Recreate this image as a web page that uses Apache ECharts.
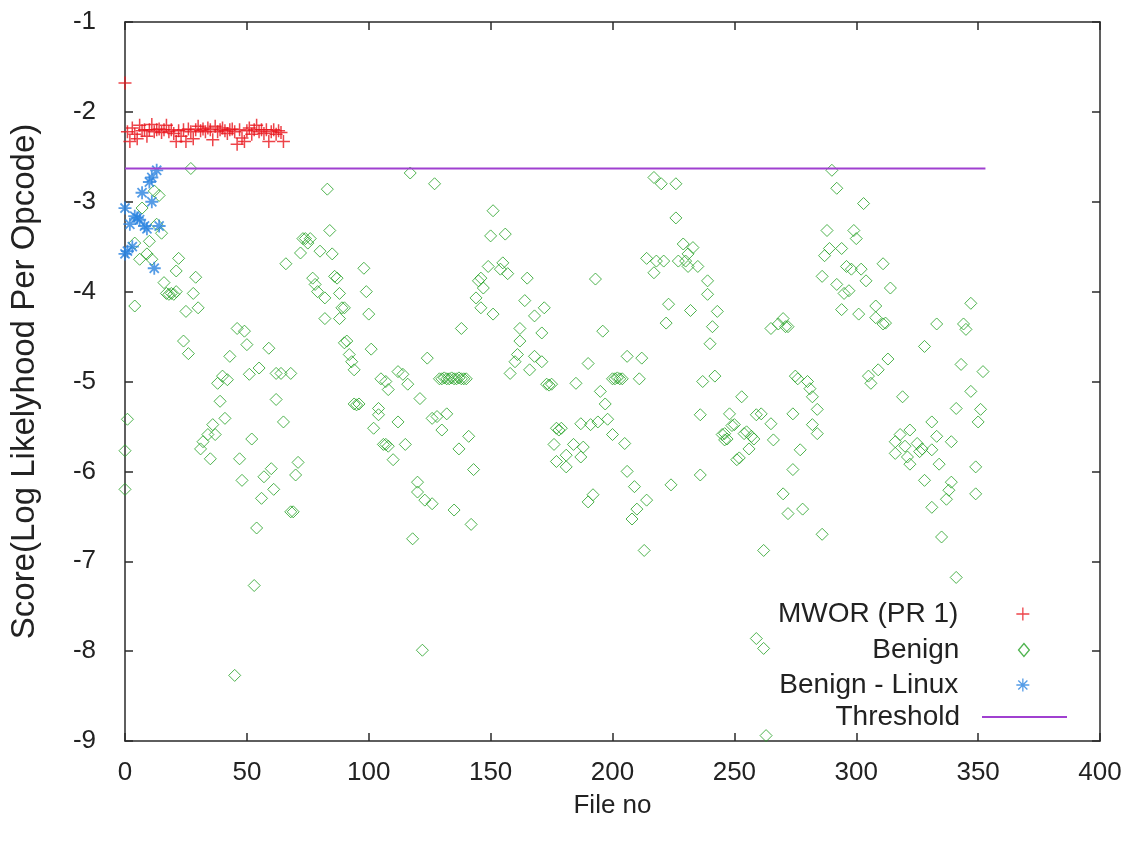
<!DOCTYPE html>
<html lang="en">
<head>
    <meta charset="UTF-8">
    <title>Score per file</title>
    <script src="https://cdn.jsdelivr.net/npm/echarts@6/dist/echarts.min.js"></script>
    <style>
        html, body {margin: 0; padding: 0; background: #ffffff;}
        #chart {width: 1131px; height: 841px;}
    </style>
</head>
<body>
<div id="chart"></div>
<script>
    // series names (legend order)
    const seriesNames = ["MWOR (PR 1)", "Benign", "Benign - Linux", "Threshold"];

    // MWOR scores, index = file no
    const mwor = [-1.68, -2.22, -2.33, -2.18, -2.25, -2.30, -2.15, -2.21, -2.20, -2.27,
        -2.20, -2.14, -2.22, -2.20, -2.19, -2.23, -2.20, -2.15, -2.22, -2.20,
        -2.24, -2.33, -2.21, -2.27, -2.20, -2.33, -2.19, -2.22, -2.30, -2.20,
        -2.16, -2.21, -2.19, -2.22, -2.18, -2.20, -2.31, -2.16, -2.22, -2.20,
        -2.18, -2.21, -2.24, -2.20, -2.19, -2.22, -2.36, -2.20, -2.29, -2.33,
        -2.21, -2.18, -2.25, -2.20, -2.15, -2.22, -2.20, -2.24, -2.20, -2.33,
        -2.22, -2.20, -2.25, -2.21, -2.23, -2.33];

    // benign - linux [file no, score]
    const linux = [[0, -3.07], [0, -3.58], [1, -3.55], [2, -3.25], [3, -3.50], [4, -3.16],
        [5, -3.18], [6, -3.20], [7, -2.90], [8, -3.27], [9, -3.30], [10, -2.78],
        [11, -2.73], [11, -3.00], [12, -3.74], [13, -2.65], [14, -3.27]];

    // benign [file no, score]
    const benign = [[0, -5.77], [0, -6.2], [1, -5.42], [4, -3.46], [4, -4.16], [6, -3.64], [7, -3.07], [9, -3.58],
        [10, -3.44], [11, -3.64], [12, -2.88], [13, -3.25], [14, -2.93], [15, -3.35], [16, -3.9], [17, -4.02],
        [18, -4.03], [19, -4.02], [20, -4.03], [21, -3.77], [21, -4.0], [22, -3.63], [24, -4.55], [25, -4.22],
        [26, -4.69], [27, -2.63], [28, -4.02], [29, -3.84], [30, -4.18], [31, -5.75], [32, -5.67], [34, -5.59],
        [35, -5.86], [36, -5.48], [37, -5.59], [38, -5.02], [39, -5.22], [40, -4.94], [41, -5.41], [42, -4.98],
        [43, -4.72], [45, -8.27], [46, -4.41], [47, -5.86], [48, -6.1], [49, -4.44], [50, -4.59], [51, -4.92],
        [52, -5.64], [53, -7.27], [54, -6.63], [55, -4.85], [56, -6.3], [57, -6.06], [59, -4.63], [60, -5.97],
        [61, -6.2], [62, -4.91], [62, -5.2], [64, -4.91], [65, -5.45], [66, -3.69], [68, -4.91], [68, -6.45],
        [69, -6.45], [70, -6.04], [71, -5.9], [72, -3.57], [73, -3.41], [74, -3.41], [75, -3.46], [76, -3.41],
        [77, -3.85], [78, -3.92], [79, -4.0], [80, -3.55], [82, -4.07], [82, -4.3], [83, -2.86], [84, -3.32],
        [85, -3.58], [86, -3.83], [87, -3.85], [88, -4.02], [88, -4.3], [89, -4.18], [90, -4.18], [90, -4.57],
        [91, -4.55], [92, -4.7], [93, -4.78], [94, -4.87], [94, -5.25], [95, -5.26], [96, -5.25], [98, -3.74],
        [99, -4.0], [100, -4.25], [101, -4.64], [102, -5.52], [104, -5.3], [104, -5.37], [105, -4.97], [106, -5.7],
        [107, -5.0], [107, -5.7], [108, -5.09], [108, -5.72], [110, -5.87], [112, -4.89], [112, -5.45], [114, -4.92],
        [115, -5.7], [116, -5.03], [117, -2.68], [118, -6.75], [120, -6.12], [120, -6.23], [121, -5.19], [122, -7.99],
        [123, -6.32], [124, -4.74], [126, -5.41], [126, -6.36], [127, -2.8], [128, -5.39], [129, -4.97], [130, -4.97],
        [131, -4.96], [132, -4.97], [133, -4.97], [134, -4.96], [135, -4.97], [136, -4.97], [137, -4.96], [138, -4.97],
        [139, -4.97], [140, -4.97], [130, -5.54], [132, -5.36], [135, -6.43], [137, -5.75], [138, -4.41], [141, -5.61],
        [142, -6.59], [143, -5.98], [144, -4.07], [145, -3.88], [146, -3.85], [146, -4.18], [147, -3.96], [149, -3.72],
        [150, -3.38], [151, -3.1], [151, -4.25], [154, -3.75], [155, -3.68], [156, -3.36], [157, -3.8], [158, -4.91],
        [160, -4.78], [161, -4.7], [162, -4.41], [162, -4.55], [164, -4.1], [165, -3.85], [166, -4.87], [168, -4.27],
        [168, -4.72], [171, -4.78], [171, -4.46], [172, -4.18], [173, -5.03], [174, -5.04], [175, -5.03], [176, -5.7],
        [177, -5.52], [177, -5.89], [178, -5.54], [179, -5.52], [181, -5.82], [181, -5.95], [184, -5.7], [185, -5.02],
        [187, -5.47], [187, -5.84], [188, -5.73], [190, -4.8], [190, -6.34], [191, -5.48], [192, -6.26], [193, -3.86],
        [194, -5.45], [195, -5.11], [196, -4.44], [197, -5.25], [198, -5.42], [200, -5.59], [200, -4.97], [201, -4.97],
        [202, -4.96], [203, -4.97], [204, -4.97], [205, -5.69], [206, -6.0], [206, -4.72], [208, -6.53], [209, -6.17],
        [210, -6.42], [211, -4.97], [212, -4.74], [213, -6.88], [214, -6.32], [214, -3.63], [217, -2.73], [217, -3.79],
        [218, -3.66], [220, -2.8], [221, -3.66], [222, -4.35], [223, -4.14], [224, -6.15], [226, -2.8], [226, -3.18],
        [227, -3.66], [229, -3.47], [230, -3.66], [231, -3.58], [231, -3.72], [232, -4.21], [233, -3.51], [235, -3.72],
        [236, -5.37], [236, -6.04], [237, -5.0], [239, -3.88], [239, -4.03], [240, -4.58], [241, -4.39], [242, -4.94],
        [243, -4.22], [245, -5.59], [246, -5.58], [246, -5.65], [247, -5.64], [248, -5.36], [249, -5.49], [250, -5.48],
        [251, -5.87], [252, -5.85], [253, -5.17], [254, -5.58], [255, -5.56], [256, -5.75], [257, -5.61], [258, -5.64],
        [259, -5.37], [259, -7.86], [261, -5.36], [262, -6.88], [262, -7.97], [263, -8.94], [265, -5.47], [265, -4.41],
        [266, -5.65], [268, -4.36], [270, -4.3], [270, -6.25], [271, -4.39], [272, -4.39], [272, -6.47], [274, -5.36],
        [274, -5.98], [275, -4.94], [276, -4.97], [277, -5.76], [278, -6.42], [280, -5.0], [281, -5.08], [282, -5.17],
        [282, -5.48], [284, -5.31], [284, -5.58], [286, -3.83], [286, -6.7], [287, -3.6], [288, -3.32], [289, -3.52],
        [290, -2.65], [292, -2.85], [292, -3.92], [294, -3.52], [294, -4.2], [295, -4.02], [296, -3.72], [297, -3.99],
        [298, -3.75], [299, -3.32], [300, -3.41], [301, -4.25], [302, -3.75], [303, -3.02], [304, -3.88], [305, -4.94],
        [306, -5.02], [308, -4.16], [308, -4.29], [309, -4.87], [311, -3.69], [311, -4.36], [312, -4.35], [313, -4.75],
        [314, -3.96], [316, -5.67], [316, -5.8], [318, -5.59], [319, -5.17], [320, -5.72], [321, -5.84], [322, -5.54],
        [322, -5.92], [325, -5.69], [326, -5.78], [327, -5.75], [328, -4.61], [328, -6.1], [331, -5.45], [331, -5.76],
        [331, -6.4], [333, -4.36], [333, -5.61], [334, -5.92], [335, -6.73], [337, -6.31], [338, -6.21], [339, -5.67],
        [339, -6.12], [341, -5.3], [341, -7.18], [343, -4.81], [344, -4.36], [345, -4.42], [347, -4.13], [347, -5.11],
        [349, -5.95], [349, -6.25], [350, -5.45], [351, -5.31], [352, -4.89]];

    // threshold line
    const thresholdX = [0, 353];
    const thresholdY = -2.63;

    const xTicks = [0, 400, 50];
    const yTicks = [-9, -1, 1];

    const font = "'Liberation Sans', Arial, sans-serif";
    const textColor = "#222";
    const axisColor = "#2a2a2a";
    const colors = ['#e8141c', '#22a022', '#2b83e0', '#a040d0'];

    const plusSymbol = "path://M0,5L10,5M5,0L5,10";
    const diamondSymbol = "path://M5,0L10,6L5,12L0,6Z";
    const starSymbol = "path://M0,5L10,5M5,0L5,10M1.5,1.5L8.5,8.5M8.5,1.5L1.5,8.5";

    const chart = echarts.init(document.getElementById('chart'), null, {renderer: 'canvas'});

    function axisBase(pos, showLabel) {
        return {
            type: 'value',
            position: pos,
            axisLine: {show: true, onZero: false, lineStyle: {color: axisColor, width: 1.5}},
            axisTick: {show: true, inside: true, length: 8, lineStyle: {color: axisColor, width: 1.5}},
            splitLine: {show: false},
            axisLabel: {show: showLabel, color: textColor, fontFamily: font, fontSize: 26}
        };
    }

    //legend, one block per series so the texts line up on the right
    let legends = [];
    const legendTops = [600, 636, 671, 703];
    const legendRights = [101, 101, 101, 64];
    for (let i = 0; i < seriesNames.length; i++) {
        let lg = {
            data: [seriesNames[i]],
            right: legendRights[i],
            top: legendTops[i],
            align: 'right',
            padding: 0,
            itemWidth: 85,
            itemHeight: 13,
            selectedMode: false,
            itemStyle: {borderWidth: 1.3},
            textStyle: {color: textColor, fontFamily: font, fontSize: 28, padding: [0, 17, 0, 0]}
        };
        if (i === 3) {
            lg.icon = 'rect';
            lg.itemHeight = 2;
            lg.itemStyle = {borderWidth: 0};
        }
        legends.push(lg);
    }

    let option = {
        animation: false,
        backgroundColor: '#ffffff',
        grid: {left: 120, right: 31, top: 22, bottom: 100},
        legend: legends,
        xAxis: [
            Object.assign(axisBase('bottom', true), {
                min: xTicks[0], max: xTicks[1], interval: xTicks[2],
                name: 'File no', nameLocation: 'middle', nameGap: 52,
                nameTextStyle: {color: textColor, fontFamily: font, fontSize: 26},
                axisLabel: {show: true, color: textColor, fontFamily: font, fontSize: 26, margin: 19}
            }),
            Object.assign(axisBase('top', false), {min: xTicks[0], max: xTicks[1], interval: xTicks[2]})
        ],
        yAxis: [
            Object.assign(axisBase('left', true), {
                min: yTicks[0], max: yTicks[1], interval: yTicks[2],
                name: 'Score(Log Likelyhood Per Opcode)', nameLocation: 'middle', nameGap: 84,
                nameTextStyle: {color: textColor, fontFamily: font, fontSize: 33},
                axisLabel: {show: true, color: textColor, fontFamily: font, fontSize: 26, margin: 29}
            }),
            Object.assign(axisBase('right', false), {min: yTicks[0], max: yTicks[1], interval: yTicks[2]})
        ],
        series: [
            {
                name: seriesNames[0],
                type: 'scatter',
                data: mwor.map((v, i) => [i, v]),
                symbol: plusSymbol,
                symbolSize: 13,
                itemStyle: {color: 'transparent', borderColor: colors[0], borderWidth: 1.5}
            },
            {
                name: seriesNames[1],
                type: 'scatter',
                data: benign,
                symbol: diamondSymbol,
                symbolSize: 12,
                itemStyle: {color: 'transparent', borderColor: colors[1], borderWidth: 1}
            },
            {
                name: seriesNames[2],
                type: 'scatter',
                data: linux,
                symbol: starSymbol,
                symbolSize: 13,
                itemStyle: {color: 'transparent', borderColor: colors[2], borderWidth: 1.8}
            },
            {
                name: seriesNames[3],
                type: 'line',
                data: thresholdX.map(x => [x, thresholdY]),
                symbol: 'none',
                itemStyle: {color: colors[3]},
                lineStyle: {color: colors[3], width: 1.8}
            }
        ]
    };

    chart.setOption(option);
</script>
</body>
</html>
